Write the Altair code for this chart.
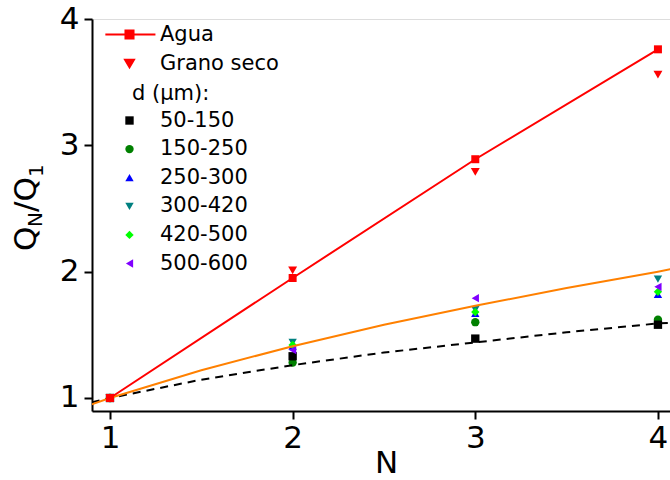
import altair as alt
import pandas as pd

# ---------------- data ----------------
N = [1, 2, 3, 4]
agua = [1.0, 1.95, 2.89, 3.76]
grano_seco = [1.0, 2.01, 2.79, 3.56]

d_labels = ["50-150", "150-250", "250-300", "300-420", "420-500", "500-600"]
d_50_150 = [1.0, 1.33, 1.47, 1.58]
d_150_250 = [1.0, 1.28, 1.60, 1.62]
d_250_300 = [1.0, 1.41, 1.67, 1.82]
d_300_420 = [1.0, 1.44, 1.70, 1.94]
d_420_500 = [1.0, 1.42, 1.68, 1.84]
d_500_600 = [1.0, 1.38, 1.79, 1.88]
d_series = [d_50_150, d_150_250, d_250_300, d_300_420, d_420_500, d_500_600]
d_colors = ["#000000", "#008000", "#0000ff", "#008080", "#00ff00", "#8000ff"]
d_shapes = ["square", "circle", "triangle-up", "triangle-down", "diamond", "triangle-left"]

# curves
fit_x = [0.90, 1.0, 1.5, 2.0, 2.5, 3.0, 3.5, 4.0, 4.07]
fit_orange = [0.95, 1.0, 1.22, 1.41, 1.58, 1.73, 1.87, 2.0, 2.02]
fit_dashed = [0.965, 1.0, 1.145, 1.26, 1.36, 1.44, 1.52, 1.59, 1.595]

series_labels = ["Agua", "Grano seco"]

FONT = "DejaVu Sans"
RED = "#ff0000"
AGUA_SYMBOL = "M-5.4,0L5.8,0M-0.9,-0.9L0.9,-0.9L0.9,0.9L-0.9,0.9Z"

# ---------------- tables ----------------
agua_df = pd.DataFrame({"N": N, "Q": agua})
grano_df = pd.DataFrame({"N": N, "Q": grano_seco, "serie": ["Grano seco"] * len(N)})
d_rows = []
for lab, vals in zip(d_labels, d_series):
    for n, v in zip(N, vals):
        d_rows.append({"N": n, "Q": v, "d": lab})
d_df = pd.DataFrame(d_rows)
fit_df = pd.DataFrame({"N": fit_x, "orange": fit_orange, "dashed": fit_dashed})

xs = alt.Scale(domain=[0.9015, 4.066], nice=False, zero=False)
ys = alt.Scale(domain=[0.897, 4.0], nice=False, zero=False)

x_axis = alt.Axis(values=N, format="d", title="N", grid=False,
                  labelFont=FONT, labelFontSize=31, labelColor="black", labelPadding=4,
                  tickSize=8, tickWidth=2, tickColor="black",
                  domainColor="black", domainWidth=2,
                  titleFont=FONT, titleFontSize=31, titleFontWeight="normal", titleColor="black",
                  titleX=294, titleY=61, titleBaseline="alphabetic")
y_axis = alt.Axis(values=[1, 2, 3, 4], format="d", title=None, grid=False,
                  labelFont=FONT, labelFontSize=31, labelColor="black", labelPadding=5,
                  tickSize=8, tickWidth=2, tickColor="black",
                  domainColor="black", domainWidth=2)

X = alt.X("N:Q", scale=xs, axis=x_axis)
Y = alt.Y("Q:Q", scale=ys, axis=y_axis)

orange = alt.Chart(fit_df).mark_line(color="#ff8000", strokeWidth=2, clip=True).encode(
    x=alt.X("N:Q", scale=xs, axis=x_axis), y=alt.Y("orange:Q", scale=ys, axis=y_axis))
dashed = alt.Chart(fit_df).mark_line(color="black", strokeWidth=2, strokeDash=[8, 6], clip=True).encode(
    x=alt.X("N:Q", scale=xs, axis=x_axis), y=alt.Y("dashed:Q", scale=ys, axis=y_axis))

leg2 = alt.Legend(orient="none", legendX=40, legendY=64, title="d (µm):",
                  titleFont=FONT, titleFontSize=21, titleFontWeight="normal", titleColor="black",
                  titlePadding=6, padding=0, symbolOffset=-13,
                  labelFont=FONT, labelFontSize=21, labelColor="black", labelOffset=20,
                  rowPadding=6.6, symbolSize=70)
d_points = alt.Chart(d_df).mark_point(filled=True, size=70, opacity=1).encode(
    x=X, y=Y,
    color=alt.Color("d:N", scale=alt.Scale(domain=d_labels, range=d_colors), legend=leg2),
    shape=alt.Shape("d:N", scale=alt.Scale(domain=d_labels, range=d_shapes), legend=leg2),
    order=alt.Order("d:N", sort="ascending"),
)

agua_line = alt.Chart(agua_df).mark_line(color=RED, strokeWidth=2).encode(x=X, y=Y)
agua_pts = alt.Chart(agua_df).mark_point(filled=True, shape="square", size=64, color=RED, opacity=1).encode(x=X, y=Y)

leg1 = alt.Legend(orient="none", legendX=27, legendY=5, title=None, padding=0,
                  labelFont=FONT, labelFontSize=21, labelColor="black", labelOffset=20,
                  rowPadding=7, symbolSize=80,
                  symbolStrokeColor=RED, symbolStrokeWidth=2)
grano_pts = alt.Chart(grano_df).mark_point(filled=True, size=80, opacity=1).encode(
    x=X, y=Y,
    color=alt.Color("serie:N", scale=alt.Scale(domain=series_labels, range=[RED, RED]), legend=leg1),
    shape=alt.Shape("serie:N", scale=alt.Scale(domain=series_labels, range=[AGUA_SYMBOL, "triangle-down"]), legend=leg1),
)

# y-axis title Q_N/Q_1 built from pieces (subscripts)
def ytxt(t, x, y, size):
    return alt.Chart(pd.DataFrame({"t": [t]})).mark_text(
        font=FONT, fontSize=size, angle=270, align="left", baseline="alphabetic", color="black"
    ).encode(text="t:N", x=alt.value(x), y=alt.value(y))

title_parts = [
    ytxt("Q", -56, 232, 31),
    ytxt("N", -50, 208, 20),
    ytxt("/Q", -56, 193, 31),
    ytxt("1", -49, 158, 20),
]

chart = alt.layer(
    d_points, dashed, orange, agua_line, agua_pts, grano_pts, *title_parts
).resolve_scale(color="independent", shape="independent").properties(
    width=578, height=392,
    autosize=alt.AutoSizeParams(type="none"),
    padding={"left": 92, "top": 19, "right": 0, "bottom": 69},
).configure_view(stroke="black", strokeWidth=2).configure(background="white")

chart.save("out.html", embed_options={"renderer": "svg", "actions": False})
